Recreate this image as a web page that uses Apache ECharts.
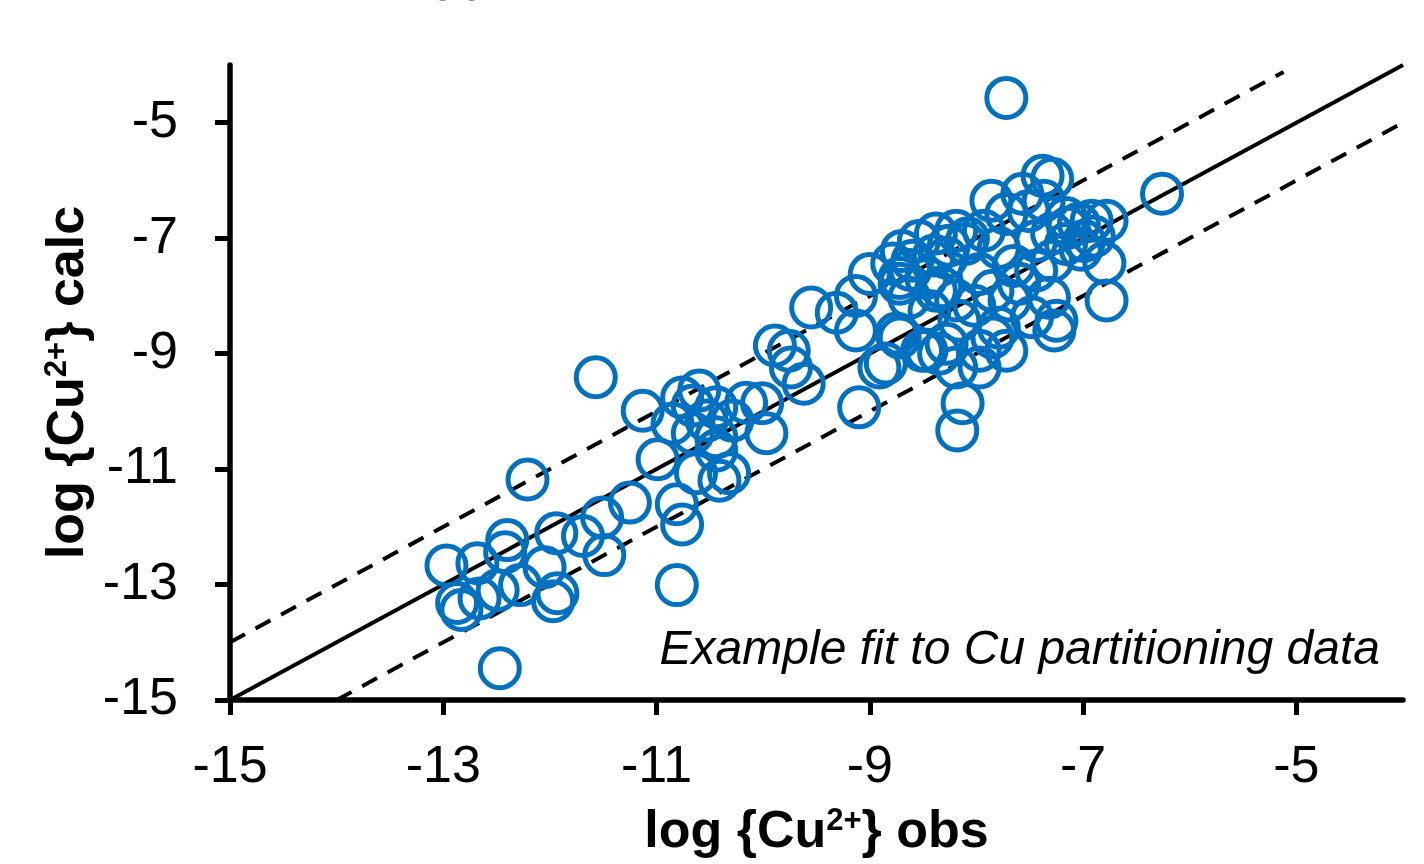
<!DOCTYPE html>
<html>
<head>
<meta charset="utf-8">
<script src="https://cdn.jsdelivr.net/npm/echarts@6/dist/echarts.min.js"></script>
<style>
html,body{margin:0;padding:0;background:#fff;}
#chart{width:1424px;height:864px;}
</style>
</head>
<body>
<div id="chart"></div>
<script>
// ---- data ----
var obsValues = [
-12.97,-12.68,-12.40,-12.42,-12.87,-12.83,-12.66,-12.49,-12.28,-12.05,-11.97,-11.93,-12.21,-12.47,-11.94,-11.69,-11.51,-11.25,-11.49,-11.57,
-11.13,-10.99,-10.85,-10.76,-10.60,-10.66,-10.44,-10.66,-10.44,-10.29,-10.16,-10.01,-9.97,-10.63,-10.41,-10.32,-10.81,-10.76,-10.81,-10.44,-10.53,
-9.89,-9.76,-9.74,-9.62,-9.55,-9.31,-9.13,-9.00,-9.13,-8.91,-9.10,-8.72,-8.75,-8.47,-8.13,-8.18,
-7.72,-6.26,-6.78,-6.80,-6.78,-7.38,-7.29,-7.86,-7.57,-7.72,-7.16,-7.04,-6.92,-7.29,-7.16,-7.44,-7.79,-8.19,-8.38,-8.10,
-8.70,-8.79,-8.60,-8.28,-8.47,-8.72,-8.63,-8.38,-8.19,-7.97,-7.85,-7.60,-7.44,-7.29,-7.32,-7.25,-7.48,
-8.72,-8.85,-8.51,-8.35,-8.28,-8.19,-7.97,-7.97,-7.85,-7.72,-7.79,-7.27,
-6.99,-7.69,-8.02,-8.16,-8.44,-7.65,-7.93,-8.26,-8.54,-7.51,-7.37,-6.90,
-8.62,-8.40,-8.08,-7.14,-7.02,-8.33
];
var calcValues = [
-12.67,-12.63,-12.23,-12.44,-13.32,-13.44,-13.24,-13.10,-13.01,-12.70,-13.29,-13.15,-11.18,-14.45,-12.11,-12.16,-11.84,-11.58,-12.49,-9.41,
-9.99,-10.83,-10.21,-9.76,-9.64,-9.90,-9.93,-10.38,-10.45,-10.16,-9.85,-9.86,-10.38,-11.07,-11.20,-11.07,-11.61,-11.96,-13.01,-10.68,-10.16,
-8.86,-8.95,-9.24,-9.52,-8.20,-8.29,-8.00,-7.62,-8.60,-9.24,-9.93,-7.69,-8.65,-8.95,-9.86,-10.33,
-4.57,-6.23,-6.70,-7.43,-8.08,-5.92,-5.97,-6.35,-6.23,-6.58,-6.65,-6.75,-6.70,-6.92,-7.10,-7.05,-7.17,-6.87,-6.92,-7.10,
-7.22,-7.44,-7.39,-7.34,-7.69,-7.79,-8.03,-7.91,-8.08,-7.62,-7.91,-7.79,-7.56,-7.39,-8.03,-8.43,-8.37,
-8.72,-9.17,-8.95,-9.00,-8.83,-9.24,-9.24,-8.95,-8.72,-8.95,-8.55,-8.60,
-7.05,-8.08,-8.17,-8.43,-8.26,-7.48,-6.87,-7.13,-7.05,-6.53,-6.35,-6.97,
-7.55,-7.30,-7.00,-6.82,-7.20,-7.85
];
var fitLineX = [-15, -4];
var fitLineY = [-15, -4];
var upperLineX = [-15, -5.12];
var upperLineY = [-14, -4.12];
var lowerLineX = [-14, -4];
var lowerLineY = [-15, -5];
var xTickLabels = [-15, -13, -11, -9, -7, -5];
var yTickLabels = [-15, -13, -11, -9, -7, -5];
var xAxisName = 'log {Cu{sup|2+}} obs';
var yAxisName = 'log {Cu{sup|2+}} calc';
var annotationText = 'Example fit to Cu partitioning data';
var topFragmentText = '1.00';

// ---- build ----
function zip(a, b) { var r = []; for (var i = 0; i < a.length; i++) r.push([a[i], b[i]]); return r; }
var FONT = 'Liberation Sans, Arial, sans-serif';
var chart = echarts.init(document.getElementById('chart'), null, {renderer: 'canvas'});
var nameStyle = {
  fontFamily: FONT, fontSize: 52, fontWeight: 'bold', color: '#000',
  rich: { sup: { fontFamily: FONT, fontSize: 31, fontWeight: 'bold', color: '#000', verticalAlign: 'top', padding: [0,0,22,0] } }
};
var option = {
  animation: false,
  backgroundColor: '#fff',
  grid: { left: 230, right: 21, top: 65, bottom: 164, containLabel: false, outerBoundsMode: 'none' },
  xAxis: {
    type: 'value', min: -15, max: -4,
    name: xAxisName, nameLocation: 'middle', nameGap: 106, nameTextStyle: nameStyle,
    axisLine: { onZero: false, lineStyle: { color: '#000', width: 5.5 } },
    axisTick: { show: true, length: 15, customValues: xTickLabels, lineStyle: { color: '#000', width: 5 } },
    axisLabel: { customValues: xTickLabels, fontFamily: FONT, fontSize: 52, color: '#000', margin: 42 },
    splitLine: { show: false }
  },
  yAxis: {
    type: 'value', min: -15, max: -4,
    name: yAxisName, nameLocation: 'middle', nameGap: 135, nameMoveOverlap: false, nameTextStyle: nameStyle,
    axisLine: { onZero: false, lineStyle: { color: '#000', width: 5.5 } },
    axisTick: { show: true, length: 15, customValues: yTickLabels, lineStyle: { color: '#000', width: 5 } },
    axisLabel: { customValues: yTickLabels, fontFamily: FONT, fontSize: 52, color: '#000', margin: 52 },
    splitLine: { show: false }
  },
  graphic: [
    { type: 'text', style: { text: annotationText, x: 1380, y: 651, align: 'right', verticalAlign: 'middle', font: 'italic 48px ' + FONT, fill: '#000' }, z: 100 },
    { type: 'text', style: { text: topFragmentText, x: 385, y: -14, align: 'left', verticalAlign: 'middle', font: '52px ' + FONT, fill: '#000' }, z: 100 }
  ],
  series: [
    { type: 'line', data: zip(fitLineX, fitLineY), showSymbol: false, symbol: 'none', z: 1,
      lineStyle: { color: '#000', width: 4, type: 'solid' } },
    { type: 'line', data: zip(upperLineX, upperLineY), showSymbol: false, symbol: 'none', z: 1,
      lineStyle: { color: '#000', width: 4, type: [17, 12] } },
    { type: 'line', data: zip(lowerLineX, lowerLineY), showSymbol: false, symbol: 'none', z: 1,
      lineStyle: { color: '#000', width: 4, type: [17, 12] } },
    { type: 'scatter', data: zip(obsValues, calcValues), symbol: 'circle', symbolSize: 39, z: 5,
      itemStyle: { color: 'rgba(0,0,0,0)', borderColor: '#0070C0', borderWidth: 5, opacity: 1 } }
  ]
};
chart.setOption(option);
</script>
</body>
</html>
